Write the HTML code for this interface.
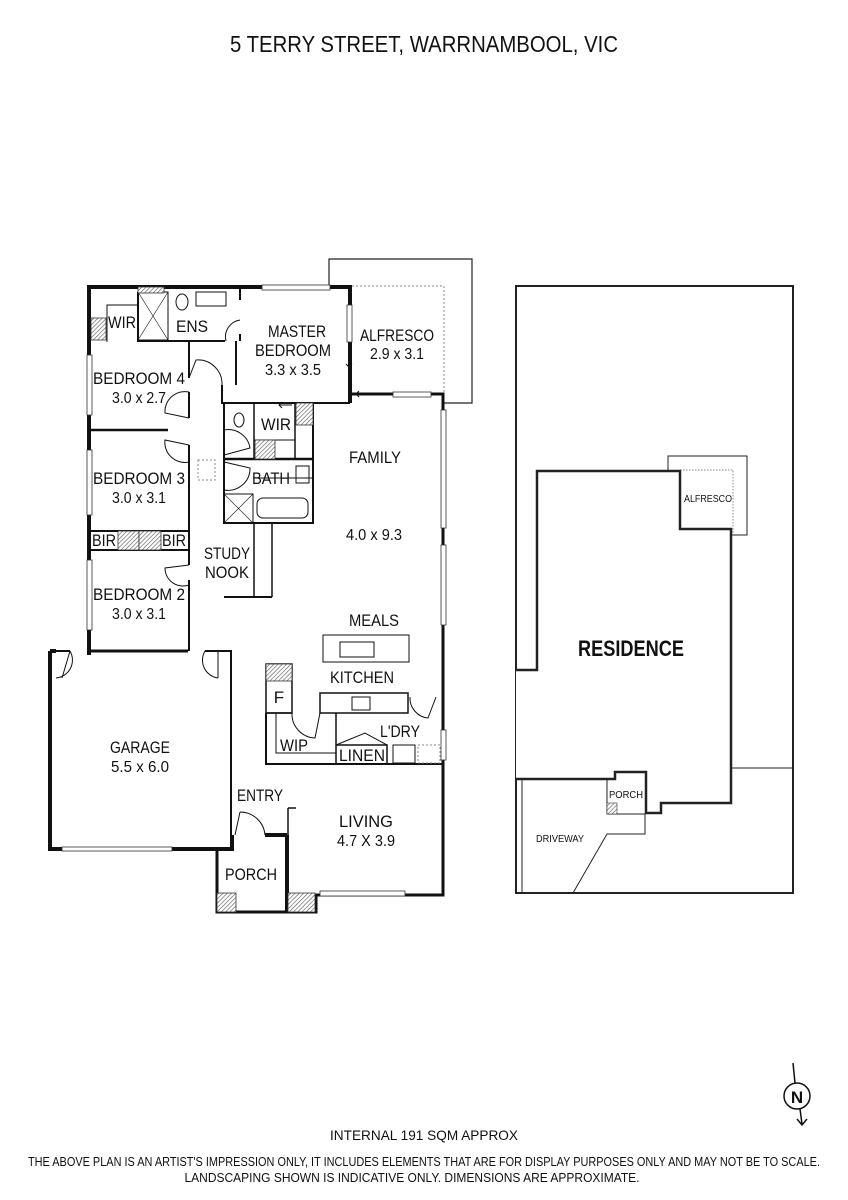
<!DOCTYPE html>
<html><head><meta charset="utf-8"><style>
html,body{margin:0;padding:0;background:#fff;}
svg{display:block;}
text{font-family:"Liberation Sans",sans-serif;fill:#111;}
.l{font-size:17px;}
.d{font-size:16px;}
</style></head><body>
<svg width="848" height="1200" viewBox="0 0 848 1200" xmlns="http://www.w3.org/2000/svg">
<defs>
<pattern id="h" width="3" height="3" patternUnits="userSpaceOnUse" patternTransform="rotate(45)">
<rect width="3" height="3" fill="#fff"/><line x1="0" y1="0" x2="0" y2="3" stroke="#555" stroke-width="1.2"/></pattern>
</defs>
<text x="424" y="52" text-anchor="middle" font-size="23" textLength="388" lengthAdjust="spacingAndGlyphs">5 TERRY STREET, WARRNAMBOOL, VIC</text>

<!-- Alfresco -->
<path d="M329 287 V259 H472 V403 H443" fill="none" stroke="#222" stroke-width="1.2"/>
<path d="M352 286 H444 V395" fill="none" stroke="#888" stroke-width="1" stroke-dasharray="2,2"/>

<g fill="none" stroke="#111">
<path d="M89 655 V287 H350 V403" stroke-width="4"/>
<path d="M350 394 H443 V895 H316 V912 H217 V849" stroke-width="3"/>
<path d="M50 651 V849 H232 V835" stroke-width="4"/>
<path d="M50 651 H56" stroke-width="4"/>
<path d="M287 835 V912" stroke-width="4"/>
<path d="M265 835 H287" stroke-width="4"/>
<path d="M217 849 H232" stroke-width="4"/>
<path d="M89 651 H188" stroke-width="3"/>
<path d="M56 651 H70 M205 651 H231 V835" stroke-width="2"/>
<path d="M217 849 V912" stroke-width="1.5"/>
<path d="M288 808 H296 M288 808 V835" stroke-width="1.5"/>
<path d="M189 341 V378 M189 392 V418 M189 445 V565 M189 580 V651" stroke-width="2"/>
<path d="M89 430 H168" stroke-width="2.5"/>
<path d="M91 531 H188 M91 550 H188 M139 531 V550" stroke-width="2"/>
<path d="M138 292 V341 H225 M240 287 V300 M240 334 V341" stroke-width="2"/>
<path d="M107 342 V305 H138" stroke-width="1"/>
<rect x="138" y="292" width="30" height="48" stroke-width="1"/>
<path d="M138 292 L168 340 M168 292 L138 340" stroke-width="0.6"/>
<rect x="196" y="292" width="30" height="14" stroke-width="1"/>
<ellipse cx="182" cy="302" rx="6" ry="8" stroke-width="1"/>
<path d="M236 341 V385 M222 385 V403 H350" stroke-width="2"/>
<path d="M224 403 V523 H313 V403" stroke-width="2"/>
<path d="M224 459 H313" stroke-width="2.5"/>
<path d="M254 403 V459 M295 403 V459" stroke-width="1.5"/>
<path d="M254 440 H295" stroke-width="1"/>
<path d="M254 478 H313" stroke-width="1"/>
<rect x="224" y="494" width="29" height="29" stroke-width="1"/>
<path d="M224 494 L253 523 M253 494 L224 523" stroke-width="0.6"/>
<rect x="257" y="498" width="51" height="20" rx="6" stroke-width="1"/>
<rect x="296" y="466" width="13" height="17" stroke-width="1"/>
<ellipse cx="239" cy="420" rx="5" ry="7" stroke-width="1"/>
<rect x="198" y="460" width="17" height="20" stroke="#888" stroke-dasharray="2,2" stroke-width="1"/>
<path d="M254 523 V597 M272 523 V597" stroke-width="1.5"/>
<path d="M224 597 H272" stroke-width="2"/>
<rect x="323" y="635" width="86" height="27" stroke-width="1"/>
<rect x="340" y="642" width="34" height="15" stroke-width="1"/>
<rect x="320" y="693" width="88" height="20" stroke-width="1.5"/>
<rect x="352" y="697" width="18" height="13" stroke-width="1"/>
<rect x="266" y="664" width="26" height="49" stroke-width="1.5"/>
<path d="M266 713 V764 H443" stroke-width="2"/>
<path d="M266 713 H292" stroke-width="1.5"/>
<path d="M276 713 V753 H336" stroke-width="1"/>
<path d="M336 713 V764 M336 745 H387 V764" stroke-width="1.5"/>
<path d="M336 745 L365 733 L387 745" stroke-width="1"/>
<rect x="393" y="745" width="22" height="18" stroke-width="1"/>
<rect x="418" y="745" width="22" height="18" stroke="#888" stroke-dasharray="2,2" stroke-width="1"/>
<path d="M70 651 A18 18 0 0 1 56 678 M70 651 L62 678" stroke-width="1"/>
<path d="M205 651 A18 18 0 0 0 218 678 M218 651 L218 678" stroke-width="1"/>
<path d="M226 341 A17 17 0 0 1 240 320" stroke-width="1"/>
<path d="M189 378 L196 360 A24 24 0 0 1 222 385" stroke-width="1"/>
<path d="M189 418 L165 413 A20 20 0 0 1 189 392" stroke-width="1"/>
<path d="M189 445 L165 440 A20 20 0 0 0 189 462" stroke-width="1"/>
<path d="M224 455 L250 448 A22 22 0 0 0 224 430" stroke-width="1"/>
<path d="M224 462 L250 468 A22 22 0 0 1 224 490" stroke-width="1"/>
<path d="M189 565 L165 568 A18 18 0 0 0 189 585" stroke-width="1"/>
<path d="M240 812 L235 835 M240 812 A25 25 0 0 1 265 835" stroke-width="1"/>
<path d="M292 713 A24 24 0 0 0 315 738 L320 713" stroke-width="1"/>
<path d="M410 697 A20 20 0 0 0 428 718 L436 697" stroke-width="1"/>
<path d="M349 342 V367 M346 364 L349 367 L352 364" stroke-width="1"/>
<path d="M356 394 H393 M359 391 L356 394 L359 397" stroke-width="1"/>
<path d="M279 405 H292 M282 402 L279 405 L282 408" stroke-width="1"/>
</g>
<g fill="#fff" stroke="#333" stroke-width="0.8">
<rect x="347" y="305" width="5" height="37"/>
<rect x="393" y="392" width="38" height="5"/>
<rect x="262" y="285" width="68" height="5"/>
<rect x="441" y="410" width="5" height="118"/>
<rect x="441" y="545" width="5" height="80"/>
<rect x="441" y="730" width="5" height="30"/>
<rect x="87" y="355" width="5" height="60"/>
<rect x="87" y="450" width="5" height="65"/>
<rect x="87" y="560" width="5" height="70"/>
<rect x="320" y="891" width="85" height="5"/>
<rect x="62" y="847" width="110" height="4"/>
</g>
<g fill="url(#h)" stroke="#333" stroke-width="0.8">
<rect x="138" y="287" width="26" height="6"/>
<rect x="91" y="318" width="15" height="22"/>
<rect x="296" y="403" width="17" height="22"/>
<rect x="255" y="440" width="20" height="19"/>
<rect x="118" y="531" width="21" height="19"/>
<rect x="139" y="531" width="22" height="19"/>
<rect x="266" y="664" width="26" height="17"/>
<rect x="217" y="893" width="19" height="19"/>
<rect x="288" y="893" width="27" height="19"/>
</g>

<g lengthAdjust="spacingAndGlyphs">
<text class="l" x="122" y="328" text-anchor="middle" textLength="28" lengthAdjust="spacingAndGlyphs">WIR</text>
<text class="l" x="192" y="332" text-anchor="middle" textLength="32" lengthAdjust="spacingAndGlyphs">ENS</text>
<text class="l" x="297" y="337" text-anchor="middle" textLength="58" lengthAdjust="spacingAndGlyphs">MASTER</text>
<text class="l" x="293" y="356" text-anchor="middle" textLength="76" lengthAdjust="spacingAndGlyphs">BEDROOM</text>
<text class="d" x="293" y="375" text-anchor="middle" textLength="56" lengthAdjust="spacingAndGlyphs">3.3 x 3.5</text>
<text class="l" x="397" y="341" text-anchor="middle" textLength="74" lengthAdjust="spacingAndGlyphs">ALFRESCO</text>
<text class="d" x="397" y="359" text-anchor="middle" textLength="54" lengthAdjust="spacingAndGlyphs">2.9 x 3.1</text>
<text class="l" x="139" y="384" text-anchor="middle" textLength="92" lengthAdjust="spacingAndGlyphs">BEDROOM 4</text>
<text class="d" x="139" y="403" text-anchor="middle" textLength="54" lengthAdjust="spacingAndGlyphs">3.0 x 2.7</text>
<text class="l" x="276" y="430" text-anchor="middle" textLength="30" lengthAdjust="spacingAndGlyphs">WIR</text>
<text class="l" x="375" y="463" text-anchor="middle" textLength="52" lengthAdjust="spacingAndGlyphs">FAMILY</text>
<text class="l" x="139" y="484" text-anchor="middle" textLength="92" lengthAdjust="spacingAndGlyphs">BEDROOM 3</text>
<text class="d" x="139" y="503" text-anchor="middle" textLength="54" lengthAdjust="spacingAndGlyphs">3.0 x 3.1</text>
<text class="l" x="271" y="484" text-anchor="middle" textLength="38" lengthAdjust="spacingAndGlyphs">BATH</text>
<text class="d" x="374" y="540" text-anchor="middle" textLength="56" lengthAdjust="spacingAndGlyphs">4.0 x 9.3</text>
<text class="l" x="104" y="546" text-anchor="middle" textLength="24" lengthAdjust="spacingAndGlyphs">BIR</text>
<text class="l" x="174" y="546" text-anchor="middle" textLength="24" lengthAdjust="spacingAndGlyphs">BIR</text>
<text class="l" x="227" y="559" text-anchor="middle" textLength="46" lengthAdjust="spacingAndGlyphs">STUDY</text>
<text class="l" x="227" y="578" text-anchor="middle" textLength="44" lengthAdjust="spacingAndGlyphs">NOOK</text>
<text class="l" x="139" y="600" text-anchor="middle" textLength="92" lengthAdjust="spacingAndGlyphs">BEDROOM 2</text>
<text class="d" x="139" y="619" text-anchor="middle" textLength="54" lengthAdjust="spacingAndGlyphs">3.0 x 3.1</text>
<text class="l" x="374" y="626" text-anchor="middle" textLength="50" lengthAdjust="spacingAndGlyphs">MEALS</text>
<text class="l" x="362" y="683" text-anchor="middle" textLength="64" lengthAdjust="spacingAndGlyphs">KITCHEN</text>
<text class="l" x="279" y="703" text-anchor="middle">F</text>
<text class="l" x="400" y="737" text-anchor="middle" textLength="40" lengthAdjust="spacingAndGlyphs">L'DRY</text>
<text class="l" x="294" y="751" text-anchor="middle" textLength="28" lengthAdjust="spacingAndGlyphs">WIP</text>
<text class="l" x="362" y="761" text-anchor="middle" textLength="46" lengthAdjust="spacingAndGlyphs">LINEN</text>
<text class="l" x="140" y="753" text-anchor="middle" textLength="60" lengthAdjust="spacingAndGlyphs">GARAGE</text>
<text class="d" x="140" y="772" text-anchor="middle" textLength="58" lengthAdjust="spacingAndGlyphs">5.5 x 6.0</text>
<text class="l" x="260" y="801" text-anchor="middle" textLength="46" lengthAdjust="spacingAndGlyphs">ENTRY</text>
<text class="l" x="366" y="827" text-anchor="middle" textLength="54" lengthAdjust="spacingAndGlyphs">LIVING</text>
<text class="d" x="366" y="846" text-anchor="middle" textLength="58" lengthAdjust="spacingAndGlyphs">4.7 X 3.9</text>
<text class="l" x="251" y="880" text-anchor="middle" textLength="52" lengthAdjust="spacingAndGlyphs">PORCH</text>
</g>

<g fill="none" stroke="#222">
<rect x="516" y="286" width="277" height="607" stroke-width="2"/>
<path d="M522 779 V893" stroke-width="1"/>
<path d="M731 768 H793" stroke-width="1"/>
<rect x="668" y="456" width="79" height="79" stroke-width="1" fill="#fff"/>
<rect x="680" y="470" width="53" height="62" stroke="#888" stroke-dasharray="1.5,1.5" stroke-width="1"/>
<path d="M516 670 H537 V471 H680 V529 H731 V803 H661 V813 H646 V772 H615 V779 H516" stroke-width="2.5" fill="#fff"/>
<path d="M607 779 V814 H645 M645 814 V834 H607 L573 893" stroke-width="1"/>
</g>
<rect x="607" y="803" width="10" height="11" fill="url(#h)" stroke="#333" stroke-width="0.6"/>
<text x="708" y="502" text-anchor="middle" font-size="10" textLength="48" lengthAdjust="spacingAndGlyphs">ALFRESCO</text>
<text x="631" y="656" text-anchor="middle" font-size="22" font-weight="bold" textLength="106" lengthAdjust="spacingAndGlyphs">RESIDENCE</text>
<text x="626" y="798" text-anchor="middle" font-size="10" textLength="34" lengthAdjust="spacingAndGlyphs">PORCH</text>
<text x="560" y="842" text-anchor="middle" font-size="10" textLength="48" lengthAdjust="spacingAndGlyphs">DRIVEWAY</text>

<g fill="none" stroke="#111" stroke-width="1.5">
<line x1="793" y1="1063" x2="795" y2="1083"/>
<circle cx="797" cy="1096" r="13"/>
<line x1="800" y1="1109" x2="802" y2="1124"/>
<path d="M797 1119 L802 1125 L807 1119"/>
</g>
<text x="797" y="1103" text-anchor="middle" font-size="17" font-weight="bold">N</text>

<text x="424" y="1140" text-anchor="middle" font-size="14" textLength="188" lengthAdjust="spacingAndGlyphs">INTERNAL 191 SQM APPROX</text>
<text x="424" y="1166" text-anchor="middle" font-size="13" textLength="792" lengthAdjust="spacingAndGlyphs">THE ABOVE PLAN IS AN ARTIST'S IMPRESSION ONLY, IT INCLUDES ELEMENTS THAT ARE FOR DISPLAY PURPOSES ONLY AND MAY NOT BE TO SCALE.</text>
<text x="412" y="1182" text-anchor="middle" font-size="13" textLength="455" lengthAdjust="spacingAndGlyphs">LANDSCAPING SHOWN IS INDICATIVE ONLY. DIMENSIONS ARE APPROXIMATE.</text>
</svg>
</body></html>
